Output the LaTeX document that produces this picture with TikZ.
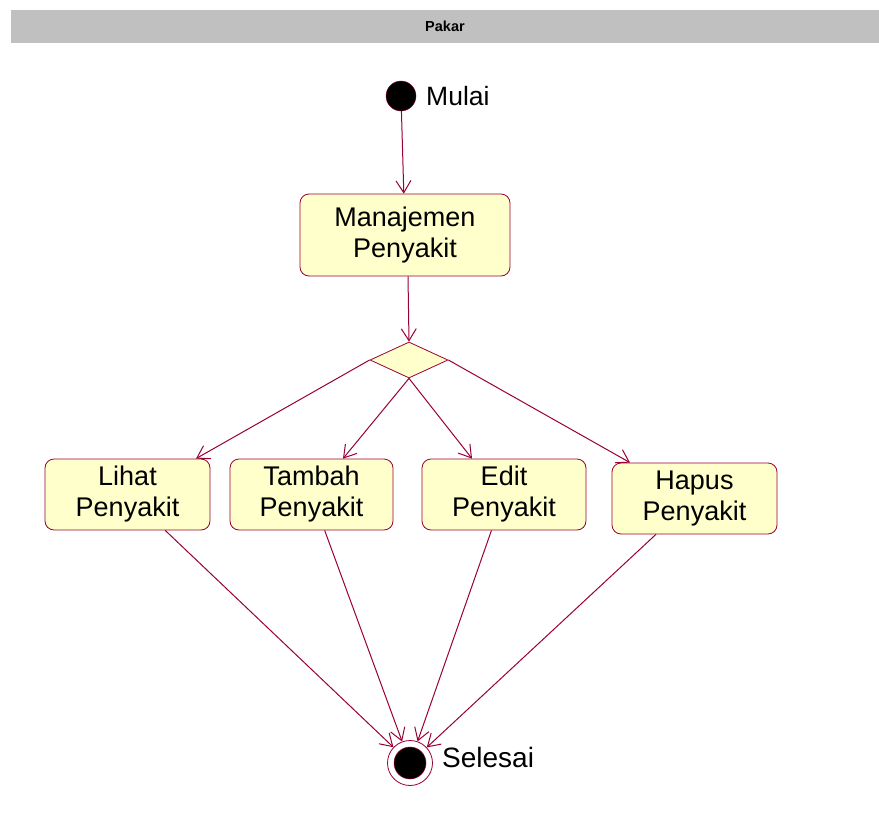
\documentclass[tikz,border=0pt]{standalone}
\usepackage{fontspec}
\setmainfont{Liberation Sans}
\usetikzlibrary{shapes.geometric,arrows.meta}
\definecolor{umlred}{RGB}{153,0,51}
\definecolor{umlfill}{RGB}{255,255,204}
\definecolor{hdr}{RGB}{192,192,192}
\tikzset{
  act/.style={draw=umlred, line width=0.8pt, fill=umlfill, rounded corners=9pt,
    align=center, font=\fontsize{27}{31}\selectfont, inner sep=0pt},
  flow/.style={draw=umlred, line width=1pt, -{Straight Barb[length=12pt,width=15pt,line width=1pt]}},
  lbl/.style={anchor=west, inner sep=0pt}
}
\begin{document}
\begin{tikzpicture}[x=1pt,y=-1pt]
\useasboundingbox (0,0) rectangle (879,836);
\fill[white] (0,0) rectangle (879,836);
\node[fill=hdr, minimum width=868pt, minimum height=33pt, inner sep=0pt,
  font=\bfseries\fontsize{14.5}{16}\selectfont] (header) at (445,26.5) {Pakar};
% start
\node[circle, draw=umlred, fill=black, minimum size=30pt, inner sep=0pt] (start) at (401,96) {};
\node[lbl, font=\fontsize{26.5}{30}\selectfont] (mulai) at (426,96) {Mulai};
% activities
\node[act, minimum width=210pt, minimum height=82pt] (manaj) at (405,235) {Manajemen\\Penyakit};
\node[diamond, draw=umlred, line width=0.8pt, fill=umlfill, minimum width=78pt, minimum height=36pt, inner sep=0pt] (dia) at (409,360) {};
\node[act, minimum width=165pt, minimum height=71pt] (lihat) at (127.5,494.5) {Lihat\\Penyakit};
\node[act, minimum width=163pt, minimum height=71pt] (tambah) at (311.5,494.5) {Tambah\\Penyakit};
\node[act, minimum width=164pt, minimum height=71pt] (edit) at (504,494.5) {Edit\\Penyakit};
\node[act, minimum width=165pt, minimum height=71pt] (hapus) at (694.5,498.5) {Hapus\\Penyakit};
% end
\node[circle, draw=umlred, line width=0.8pt, fill=white, minimum size=45pt, inner sep=0pt] (fin) at (410,763) {};
\node[circle, draw=umlred, line width=0.5pt, fill=black, minimum size=32pt, inner sep=0pt] (fininner) at (fin.center) {};
\node[lbl, font=\fontsize{28}{32}\selectfont] (selesai) at (442,757) {Selesai};
% flows
\draw[flow] (start) -- (manaj);
\draw[flow] ([xshift=3pt]manaj.south) -- (dia.north);
\draw[flow] (dia.west) -- ([xshift=68.5pt]lihat.north);
\draw[flow] (dia.south) -- ([xshift=31.5pt]tambah.north);
\draw[flow] (dia.south) -- ([xshift=-32pt]edit.north);
\draw[flow] (dia.east) -- ([xshift=-64.5pt]hapus.north);
\draw[flow] (lihat) -- (fin);
\draw[flow] (tambah) -- (fin);
\draw[flow] (edit) -- (fin);
\draw[flow] (hapus) -- (fin);
\end{tikzpicture}
\end{document}
